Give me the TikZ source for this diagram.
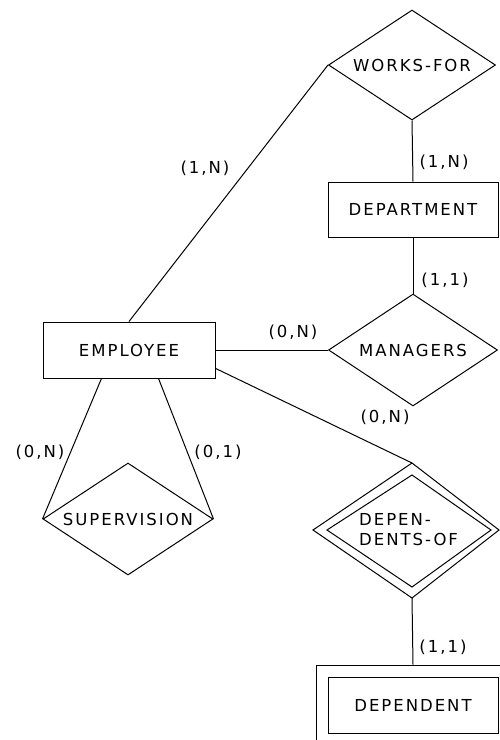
\documentclass[tikz,border=0pt]{standalone}
\usepackage{fontspec}
\setmainfont{DejaVu Sans}[LetterSpace=12]
\usetikzlibrary{shapes.geometric,calc}

\tikzset{
  conn/.style={draw=black, line width=1pt},
  entity/.style={draw=black, line width=1pt, rectangle, inner sep=0pt,
    font=\fontsize{16.5}{20}\selectfont},
  relation/.style={draw=black, line width=1pt, diamond, aspect=1.6, inner sep=0pt,
    font=\fontsize{16.5}{20}\selectfont},
  card/.style={inner sep=0pt, font=\fontsize{16.5}{20}\selectfont},
}

\begin{document}
\begin{tikzpicture}[x=1pt,y=-1pt]
  \useasboundingbox (0,0) rectangle (500,740);
  \clip (0,0) rectangle (500,740);

  % entities
  \node[entity, minimum width=172pt, minimum height=56pt] (emp) at (129,350) {EMPLOYEE};
  \node[entity, minimum width=170pt, minimum height=55pt] (dept) at (413,209.5) {DEPARTMENT};
  \node[entity, minimum width=170pt, minimum height=56pt] (dep) at (413,705) {DEPENDENT};
  \node[entity, minimum width=194pt, minimum height=80pt] (depo) at (413,705) {};

  % relationships
  \node[relation, minimum width=167pt, minimum height=110pt] (wf) at (412,65) {WORKS-FOR};
  \node[relation, minimum width=169pt, minimum height=112pt] (mg) at (413,350) {MANAGERS};
  \node[relation, minimum width=170pt, minimum height=112pt] (sup) at (128,519) {SUPERVISION};

  % identifying relationship (double diamond)
  \coordinate (don) at (412,463);
  \coordinate (doe) at (499,530);
  \coordinate (dos) at (412,598);
  \coordinate (dow) at (313,530);
  \coordinate (din) at (412,475);
  \coordinate (die) at (491,530);
  \coordinate (dis) at (412,587);
  \coordinate (diw) at (327,530);
  \draw[conn] (don) -- (doe) -- (dos) -- (dow) -- cycle;
  \draw[conn] (din) -- (die) -- (dis) -- (diw) -- cycle;
  \node[card, align=left, anchor=west] (dot) at (359,530) {DEPEN-\\DENTS-OF};

  % connectors
  \draw[conn] (emp.north) -- (wf.west);
  \draw[conn] (wf.south) -- (dept.north);
  \draw[conn] (dept.south) -- (mg.north);
  \draw[conn] (emp.east) -- (mg.west);
  \draw[conn] (emp.-12) -- (don);
  \draw[conn] (emp.-134) -- (sup.west);
  \draw[conn] (emp.-44) -- (sup.east);
  \draw[conn] (dos) -- (depo.north);

  % cardinalities
  \node[card] (c1) at (205,168) {(1,N)};
  \node[card] (c2) at (444,162) {(1,N)};
  \node[card] (c3) at (445,280) {(1,1)};
  \node[card] (c4) at (293,332) {(0,N)};
  \node[card] (c5) at (385,417) {(0,N)};
  \node[card] (c6) at (40,452) {(0,N)};
  \node[card] (c7) at (218,452) {(0,1)};
  \node[card] (c8) at (443,647) {(1,1)};
\end{tikzpicture}
\end{document}
